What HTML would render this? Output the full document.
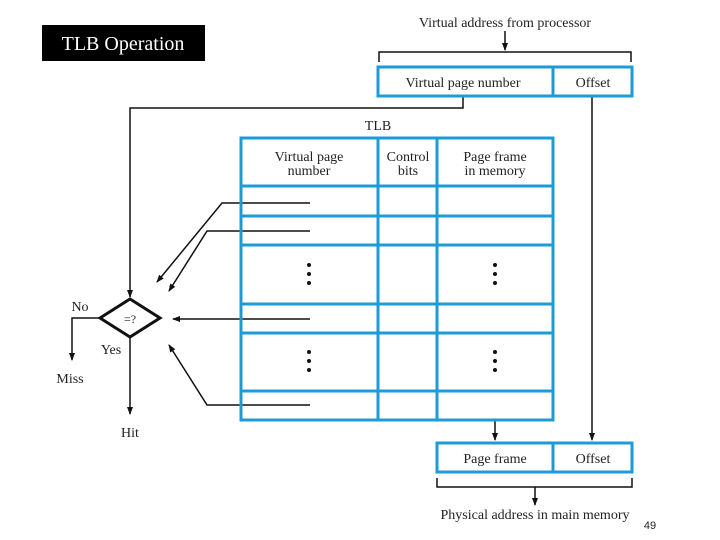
<!DOCTYPE html>
<html><head><style>body{margin:0;background:#fff}svg{display:block}text{font-family:"Liberation Serif",serif;fill:#222}</style></head><body>
<svg width="720" height="540" viewBox="0 0 720 540" xmlns="http://www.w3.org/2000/svg">
<defs><marker id="a" markerWidth="8" markerHeight="8" refX="7" refY="4" orient="auto" markerUnits="userSpaceOnUse"><path d="M0,1 L8,4 L0,7 Z" fill="#111"/></marker></defs>
<rect x="42" y="25" width="163" height="36" fill="#000"/>
<text x="123" y="50" text-anchor="middle" font-size="20" style="fill:#fff">TLB Operation</text>
<text x="505" y="27" text-anchor="middle" font-size="14">Virtual address from processor</text>
<g stroke="#111" stroke-width="1.5" fill="none">
<line x1="505" y1="31" x2="505" y2="50" marker-end="url(#a)"/>
<polyline points="379,62 379,52 631,52 631,62"/>
<polyline points="463,96 463,108 130,108 130,297" marker-end="url(#a)"/>
<polyline points="310,203 222,203 157,282" marker-end="url(#a)"/>
<polyline points="310,231 207,231 169,291" marker-end="url(#a)"/>
<line x1="310" y1="319" x2="173" y2="319" marker-end="url(#a)"/>
<polyline points="310,405 207,405 169,345" marker-end="url(#a)"/>
<polyline points="100,318 72,318 72,360" marker-end="url(#a)"/>
<line x1="130" y1="338" x2="130" y2="414" marker-end="url(#a)"/>
<line x1="592" y1="96" x2="592" y2="440" marker-end="url(#a)"/>
<line x1="495" y1="420" x2="495" y2="440" marker-end="url(#a)"/>
<polyline points="437,478 437,487 632,487 632,478"/>
<line x1="535" y1="487" x2="535" y2="505" marker-end="url(#a)"/>
</g>
<polygon points="100,318 130,299 160,318 130,337" fill="#fff" stroke="#111" stroke-width="3"/>
<text x="130" y="323" text-anchor="middle" font-size="12">=?</text>
<g stroke="#1e9bd7" stroke-width="3" fill="none">
<rect x="378" y="67" width="254" height="29"/><line x1="553" y1="67" x2="553" y2="96"/>
<rect x="241" y="138" width="312" height="282"/>
<line x1="378" y1="138" x2="378" y2="420"/><line x1="437" y1="138" x2="437" y2="420"/>
<line x1="241" y1="186" x2="553" y2="186"/><line x1="241" y1="216" x2="553" y2="216"/>
<line x1="241" y1="245" x2="553" y2="245"/><line x1="241" y1="304" x2="553" y2="304"/>
<line x1="241" y1="333" x2="553" y2="333"/><line x1="241" y1="391" x2="553" y2="391"/>
<rect x="437" y="443" width="195" height="29"/><line x1="553" y1="443" x2="553" y2="472"/>
</g>
<g fill="#111">
<circle cx="309" cy="265" r="2"/><circle cx="309" cy="274" r="2"/><circle cx="309" cy="283" r="2"/>
<circle cx="495" cy="265" r="2"/><circle cx="495" cy="274" r="2"/><circle cx="495" cy="283" r="2"/>
<circle cx="309" cy="352" r="2"/><circle cx="309" cy="361" r="2"/><circle cx="309" cy="370" r="2"/>
<circle cx="495" cy="352" r="2"/><circle cx="495" cy="361" r="2"/><circle cx="495" cy="370" r="2"/>
</g>
<g font-size="14" text-anchor="middle">
<text x="463" y="87">Virtual page number</text>
<text x="593" y="87">Offset</text>
<text x="378" y="130">TLB</text>
<text x="309" y="161">Virtual page</text><text x="309" y="175">number</text>
<text x="408" y="161">Control</text><text x="408" y="175">bits</text>
<text x="495" y="161">Page frame</text><text x="495" y="175">in memory</text>
<text x="80" y="311">No</text>
<text x="111" y="354">Yes</text>
<text x="70" y="383">Miss</text>
<text x="130" y="437">Hit</text>
<text x="495" y="463">Page frame</text>
<text x="593" y="463">Offset</text>
<text x="535" y="519">Physical address in main memory</text>
</g>
<text x="650" y="529" font-size="11" text-anchor="middle" style="font-family:'Liberation Sans',sans-serif">49</text>
</svg>
</body></html>
